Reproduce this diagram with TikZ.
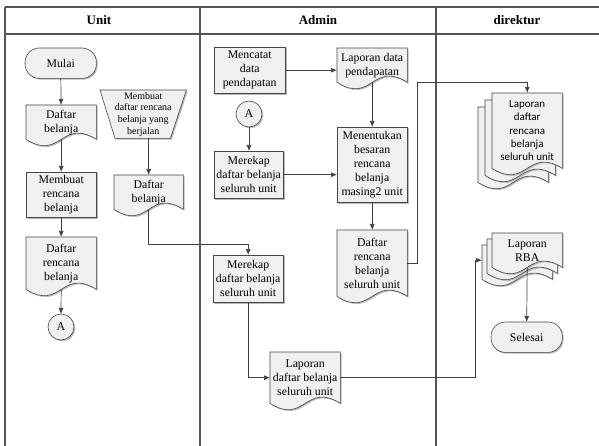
\documentclass[tikz,border=0pt]{standalone}
\usepackage{fontspec}
\setmainfont{Liberation Serif}
\newfontfamily\calibrifont{Carlito}
\usetikzlibrary{calc,arrows.meta}
\pgfdeclarelayer{background}
\pgfsetlayers{background,main}
\definecolor{lanecol}{RGB}{85,85,85}
\definecolor{edgecol}{RGB}{70,70,70}
\definecolor{conncol}{RGB}{64,64,64}
\definecolor{boxfill}{RGB}{240,240,240}
\definecolor{shadowcol}{RGB}{185,185,185}
\tikzset{
 lane/.style={draw=lanecol, line width=1.6pt},
 boxlook/.style={draw=edgecol, line width=0.6pt, fill=boxfill},
 shadowpath/.style={fill=shadowcol},
 txt/.style={font=\fontsize{11.8}{14}\selectfont, align=center, inner sep=0.5pt},
 procbox/.style={txt, rectangle, anchor=north west, minimum width=70pt},
 docbox/.style={txt, rectangle, anchor=north west, minimum width=70pt},
 termbox/.style={txt, rectangle, anchor=north west, minimum width=71pt, minimum height=30pt},
 circbox/.style={font=\fontsize{12}{14}\selectfont, circle, minimum size=26pt, inner sep=0pt},
 conn/.style={draw=conncol, line width=0.7pt, -{Latex[length=6pt,width=5pt]}},
 header/.style={font=\fontsize{13}{15}\selectfont\bfseries},
}
\newcommand\docpath[4]{%
 \path[#4] ($(#1.north west)+(#2,#3)$) -- ($(#1.north east)+(#2,#3)$) -- ($(#1.south east)+(#2,#3)$)
   .. controls ($(#1.south)+(#2,#3)+(0,-22)$) and ($(#1.south)+(#2,#3)+(0,22)$) .. ($(#1.south west)+(#2,#3)$) -- cycle;}
\newcommand\docshape[1]{\begin{pgfonlayer}{background}\docpath{#1}{1.3}{1.3}{shadowpath}\docpath{#1}{0}{0}{boxlook}\end{pgfonlayer}}
\newcommand\multidocshape[3]{\begin{pgfonlayer}{background}%
 \docpath{#1}{-2*#2+1.3}{2*#3+1.3}{shadowpath}\docpath{#1}{-2*#2}{2*#3}{boxlook}%
 \docpath{#1}{-#2+1.3}{#3+1.3}{shadowpath}\docpath{#1}{-#2}{#3}{boxlook}%
 \docpath{#1}{1.3}{1.3}{shadowpath}\docpath{#1}{0}{0}{boxlook}\end{pgfonlayer}}
\newcommand\procshape[1]{\begin{pgfonlayer}{background}%
 \path[shadowpath] ($(#1.north west)+(1.3,1.3)$) rectangle ($(#1.south east)+(1.3,1.3)$);
 \path[boxlook] (#1.north west) -- (#1.north east) -- (#1.south east) -- (#1.south west) -- cycle;\end{pgfonlayer}}
\newcommand\termshape[1]{\begin{pgfonlayer}{background}%
 \path[shadowpath, rounded corners=14.5pt] ($(#1.north west)+(1.3,1.3)$) rectangle ($(#1.south east)+(1.3,1.3)$);
 \path[boxlook, rounded corners=14.5pt] (#1.north west) -- (#1.north east) -- (#1.south east) -- (#1.south west) -- cycle;\end{pgfonlayer}}
\newcommand\circshape[1]{\begin{pgfonlayer}{background}%
 \path[shadowpath] ($(#1.center)+(1.3,1.3)$) circle[radius=13];
 \path[boxlook] (#1.center) circle[radius=13];\end{pgfonlayer}}
\begin{document}
\begin{tikzpicture}[x=1pt,y=-1pt]
\useasboundingbox (0,0) rectangle (599,446);
% lanes
\draw[lane] (5,7) -- (599,7);
\draw[lane] (5,34) -- (599,34);
\draw[lane] (5,7) -- (5,446);
\draw[lane] (200,7) -- (200,446);
\draw[lane] (436,7) -- (436,446);
\node[header] (hunit) at (99,20) {Unit};
\node[header] (hadmin) at (318,20) {Admin};
\node[header] (hdir) at (517,20) {direktur};

% Unit lane
\node[termbox] (mulai) at (25,48) {Mulai};
\termshape{mulai}
\node[docbox, minimum height=34pt] (d1) at (26,105) {Daftar\\belanja};
\docshape{d1}
\node[procbox, minimum height=45pt] (p1) at (26,172) {Membuat\\rencana\\belanja};
\procshape{p1}
\node[docbox, minimum height=52pt] (d2) at (26,237) {Daftar\\rencana\\belanja};
\docshape{d2}
\node[circbox] (a1) at (61,327) {A};
\circshape{a1}
\node[txt, anchor=north west, minimum width=86pt, minimum height=48pt,
  font=\fontsize{10}{11.7}\selectfont] (t1) at (100,90) {Membuat\\daftar rencana\\belanja yang\\berjalan};
\begin{pgfonlayer}{background}
\path[shadowpath] ($(t1.north west)+(1.3,1.3)$) -- ($(t1.north east)+(1.3,1.3)$) -- ($(t1.south east)+(-14.7,1.3)$) -- ($(t1.south west)+(16.3,1.3)$) -- cycle;
\path[boxlook] (t1.north west) -- (t1.north east) -- ($(t1.south east)+(-16,0)$) -- ($(t1.south west)+(15,0)$) -- cycle;
\end{pgfonlayer}
\node[docbox, minimum height=34pt, minimum width=69pt] (d3) at (114,175) {Daftar\\belanja};
\docshape{d3}

% Admin lane
\node[procbox, minimum height=46pt, minimum width=71pt] (p2) at (214,47) {Mencatat\\data\\pendapatan};
\procshape{p2}
\node[docbox, minimum height=34pt] (d4) at (337,48) {Laporan data\\pendapatan};
\docshape{d4}
\node[circbox] (a2) at (249,114) {A};
\circshape{a2}
\node[procbox, minimum height=47pt, minimum width=69pt] (p3) at (214,151) {Merekap\\daftar belanja\\seluruh unit};
\procshape{p3}
\node[procbox, minimum height=75pt] (p4) at (337,127) {Menentukan\\besaran\\rencana\\belanja\\masing2 unit};
\procshape{p4}
\node[docbox, minimum height=66pt] (d5) at (337,230) {Daftar\\rencana\\belanja\\seluruh unit};
\docshape{d5}
\node[procbox, minimum height=47pt] (p5) at (213,255) {Merekap\\daftar belanja\\seluruh unit};
\procshape{p5}
\node[docbox, minimum height=51pt] (d6) at (270,352) {Laporan\\daftar belanja\\seluruh unit};
\docshape{d6}

% direktur lane
\node[docbox, minimum height=75pt, font=\calibrifont\fontsize{11}{13.3}\selectfont] (m1) at (492,93) {Laporan\\daftar\\rencana\\belanja\\seluruh unit};
\multidocshape{m1}{7}{7}
\node[docbox, minimum height=34pt] (m2) at (492,233) {Laporan\\RBA};
\multidocshape{m2}{5}{6}
\node[termbox] (selesai) at (491,322) {Selesai};
\termshape{selesai}

% connectors
\draw[conn] (mulai) -- (d1);
\draw[conn] (d1.south) -- (p1.north);
\draw[conn] (p1) -- (d2);
\draw[conn] (d2.south) -- ($(a1.center)+(0,-13)$);
\draw[conn] (t1.south -| d3.north) -- (d3.north);
\draw[conn] (d3.south) -- ++(0,35) -| (p5.north);
\draw[conn] (p2.east) -- (p2.east -| d4.west);
\draw[conn] (d4.south) -- (p4.north);
\draw[conn] ($(a2.center)+(0,13)$) -- (a2 |- p3.north);
\draw[conn] (p3.east) -- (p3.east -| p4.west);
\draw[conn] (p4) -- (d5);
\draw[conn] (d5.east) -- ++(10,0) |- ($(m1.north)+(0,-11)$) -- (m1.north);
\draw[conn] (p5.south) |- (d6.west);
\draw[conn] (d6.east) -| ($(m2.west)+(-17,10)$) -- ($(m2.west)+(-10,10)$);
\draw[conn] (m2.south) -- (selesai.north);
\end{tikzpicture}
\end{document}
